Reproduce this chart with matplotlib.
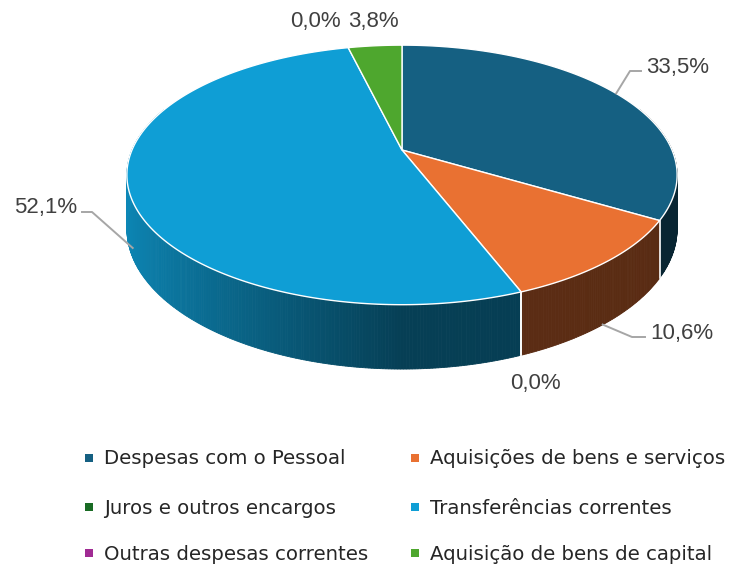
import numpy as np
import matplotlib.pyplot as plt
from matplotlib.patches import Polygon

categorias = ["Despesas com o Pessoal", "Aquisições de bens e serviços",
              "Juros e outros encargos", "Transferências correntes",
              "Outras despesas correntes", "Aquisição de bens de capital"]
valores = [33.5, 10.6, 0.0, 52.1, 0.0, 3.8]
cores = ["#156082", "#E97132", "#196B24", "#0F9ED5", "#A02B93", "#4EA72E"]

# geometria do "3D" (pixels)
CX, CY = 402, 150
A, B, K, H = 270, 125, 0.192, 52


def proj(theta, r=1.0, drop=0.0):
    t = np.radians(theta)
    x = r * np.sin(t)
    d = r * np.cos(t)
    s = 1.0 / (1.0 + K * d)
    return CX + A * x * s, CY - B * d * s + H * s * drop


def shade(theta):
    x = np.sin(np.radians(theta))
    return 0.40 + 0.46 * max(-x, 0) - 0.02 * max(x, 0)


def darker(hexcol, f):
    rgb = np.array([int(hexcol[i:i + 2], 16) for i in (1, 3, 5)]) / 255
    return tuple(np.clip(rgb * f, 0, 1))


fig = plt.figure(figsize=(7.32, 5.64), dpi=100)
ax = fig.add_axes([0, 0, 1, 1])
ax.set_xlim(0, 732)
ax.set_ylim(564, 0)
ax.axis("off")

total = sum(valores)
angulos = np.concatenate([[0], np.cumsum(valores) / total * 360])

# laterais
for i, v in enumerate(valores):
    if v <= 0:
        continue
    t1, t2 = angulos[i], angulos[i + 1]
    ts = np.linspace(t1, t2, max(int((t2 - t1) / 0.5), 2) + 1)
    for a, b in zip(ts[:-1], ts[1:]):
        if np.cos(np.radians((a + b) / 2)) > 0.35:
            continue
        c = darker(cores[i], shade((a + b) / 2))
        pts = [proj(a), proj(b), proj(b, drop=1), proj(a, drop=1)]
        ax.add_patch(Polygon(pts, closed=True, facecolor=c, edgecolor=c,
                             lw=0.6, zorder=1))

# linhas brancas entre fatias na lateral
for t in angulos[1:-1]:
    if np.cos(np.radians(t)) < -0.05 and abs(np.sin(np.radians(t))) < 0.97:
        p0, p1 = proj(t), proj(t, drop=1)
        ax.plot([p0[0], p1[0]], [p0[1], p1[1]], color="white", lw=1.2, zorder=2)

# topo
for i, v in enumerate(valores):
    if v <= 0:
        continue
    t1, t2 = angulos[i], angulos[i + 1]
    ts = np.linspace(t1, t2, 200)
    pts = [(CX, CY)] + [proj(t) for t in ts]
    ax.add_patch(Polygon(pts, closed=True, facecolor=cores[i],
                         edgecolor="white", lw=1.0, joinstyle="round", zorder=3))

# rótulos de dados
rotulos = [f"{v:.1f}%".replace(".", ",") for v in valores]
lab_font = dict(family=["Liberation Sans", "DejaVu Sans"], fontsize=16,
                color="#404040")
meio = (angulos[:-1] + angulos[1:]) / 2
leader = dict(color="#A6A6A6", lw=1.4, zorder=4)

# Despesas
p = proj(meio[0])
ax.plot([p[0], 630, 641], [p[1], 71, 71], **leader)
ax.text(646, 67, rotulos[0], ha="left", va="center", **lab_font)
# Aquisições
p = proj(meio[1], drop=1.0)
ax.plot([p[0] - 4, 632, 645], [p[1] + 2, 337, 337], **leader)
ax.text(650, 333, rotulos[1], ha="left", va="center", **lab_font)
# Juros (0%)
ax.text(535, 383, rotulos[2], ha="center", va="center", **lab_font)
# Transferências
p = proj(meio[3], drop=1.0)
ax.plot([82, 92, p[0] + 4], [212, 212, p[1] + 3], **leader)
ax.text(77, 208, rotulos[3], ha="right", va="center", **lab_font)
# Outras (0%)
ax.text(315, 22, rotulos[4], ha="center", va="center", **lab_font)
# Capital
ax.text(373, 22, rotulos[5], ha="center", va="center", **lab_font)

# legenda (2 colunas, por linhas)
leg_x = [89, 415]
leg_y = [458, 507, 553]
for i, nome in enumerate(categorias):
    col, lin = i % 2, i // 2
    ax.scatter(leg_x[col], leg_y[lin], marker="s", s=38, color=cores[i],
               linewidths=0, zorder=5)
    ax.text(leg_x[col] + 15, leg_y[lin] + 1, nome, ha="left", va="center",
            fontsize=14.2, color="#262626", family=["DejaVu Sans"])

fig.savefig("out.png", dpi=100, facecolor="white")
